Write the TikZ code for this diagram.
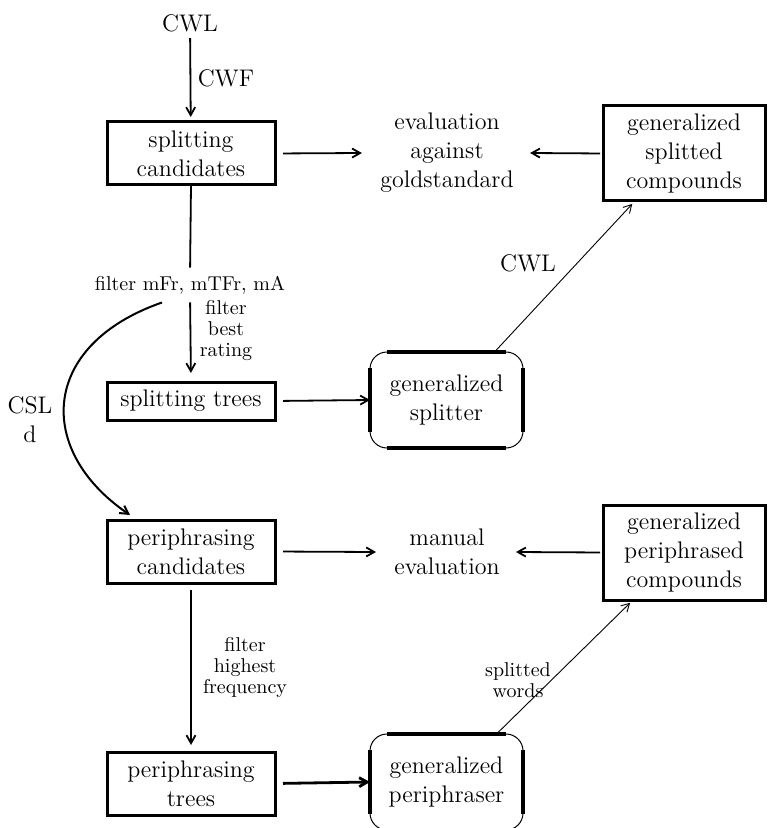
\documentclass[tikz,border=0pt]{standalone}
\usetikzlibrary{arrows.meta}
\newcommand{\dgmain}{\fontsize{12}{14.5}\selectfont}
\newcommand{\dgsmall}{\fontsize{10}{10.5}\selectfont}
\begin{document}
\begin{tikzpicture}[x=0.5pt,y=-0.5pt,
  box/.style={draw, line width=1.5pt, minimum width=84pt, minimum height=31.5pt, align=center, font=\dgmain, inner sep=0pt, outer sep=0pt},
  rbox/.style={draw, line width=0.5pt, rounded corners=8.5pt, minimum width=76.5pt, minimum height=48pt, align=center, font=\dgmain, inner sep=0pt, outer sep=0pt},
  txt/.style={align=center, font=\dgmain, inner sep=0pt},
  lbl/.style={align=center, font=\dgsmall, inner sep=0pt},
  arr/.style={-{Straight Barb[length=4pt,width=4.5pt]}, line width=0.9pt},
  thinarr/.style={-{Straight Barb[length=4pt,width=4.5pt]}, line width=0.45pt},
  seg/.style={line width=1.6pt},
  plain/.style={line width=0.9pt}]
\useasboundingbox (0,0) rectangle (767,828);

% nodes
\node[txt] (cwl) at (190,23) {CWL};
\node[box] (sc) at (191,153.5) {splitting\\candidates};
\node[txt] (ev) at (447,153) {evaluation\\against\\goldstandard};
\node[box, minimum width=81pt, minimum height=47.5pt] (gsc) at (684,153.5) {generalized\\splitted\\compounds};
\node[lbl] (fm) at (190,285) {filter mFr, mTFr, mA};
\node[box, minimum height=19pt] (st) at (191,401) {splitting trees};
\node[rbox] (gs) at (446.5,400) {generalized\\splitter};
\node[box] (pc) at (191,551.5) {periphrasing\\candidates};
\node[txt] (me) at (447,552) {manual\\evaluation};
\node[box, minimum width=81pt, minimum height=47.5pt] (gpc) at (684,552.5) {generalized\\periphrased\\compounds};
\node[box] (pt) at (191,783.5) {periphrasing\\trees};
\node[rbox] (gp) at (446.5,782) {generalized\\periphraser};

% labels
\node[txt] (lcwf) at (226,78) {CWF};
\node[lbl] (lbest) at (226,331) {filter\\best\\rating};
\node[txt] (lcwl) at (528,263) {CWL};
\node[txt] (lcsl) at (30,420) {CSL\\d};
\node[lbl] (lhigh) at (245,667) {filter\\highest\\frequency};
\node[lbl] (lsw) at (518,680) {splitted\\words};

% thick segments on rounded boxes
\foreach \n in {gs,gp}{
  \draw[seg] ([xshift=8.5pt]\n.north west) -- ([xshift=-8.5pt]\n.north east);
  \draw[seg] ([xshift=8.5pt]\n.south west) -- ([xshift=-8.5pt]\n.south east);
  \draw[seg] ([yshift=-8pt]\n.north west) -- ([yshift=8pt]\n.south west);
  \draw[seg] ([yshift=-8pt]\n.north east) -- ([yshift=8pt]\n.south east);
}

% connectors
\draw[arr, shorten <=3pt, shorten >=2.5pt] (cwl) -- (sc);
\draw[arr, shorten <=4pt] (sc.east) -- ([xshift=-9pt]ev.west);
\draw[arr, shorten <=1.5pt] (gsc.west) -- ([xshift=8pt]ev.east);
\draw[plain, shorten >=4pt] (sc.south) -- (fm.north);
\draw[arr, shorten <=4pt, shorten >=4.5pt] (fm.south) -- (st.north);
\draw[arr, shorten <=4pt] (st.east) -- (gs.west);
\draw[thinarr, shorten >=2pt] ([xshift=24pt]gs.north) -- ([xshift=-24.5pt]gsc.south);
\draw[arr, line width=1pt] ([xshift=-14pt,yshift=-4pt]fm.south) .. controls (40,345) and (35,450) .. ([xshift=11.5pt,yshift=2.5pt]pc.north west);
\draw[arr, shorten <=4pt] (pc.east) -- ([xshift=-9pt]me.west);
\draw[arr, shorten <=1.5pt] (gpc.west) -- ([xshift=8pt]me.east);
\draw[arr, shorten <=3.5pt, shorten >=3.5pt] (pc.south) -- (pt.north);
\draw[arr, line width=1.4pt, shorten <=4pt] (pt.east) -- (gp.west);
\draw[thinarr, shorten >=2pt] ([xshift=25pt]gp.north) -- ([xshift=-25.5pt]gpc.south);
\end{tikzpicture}
\end{document}
